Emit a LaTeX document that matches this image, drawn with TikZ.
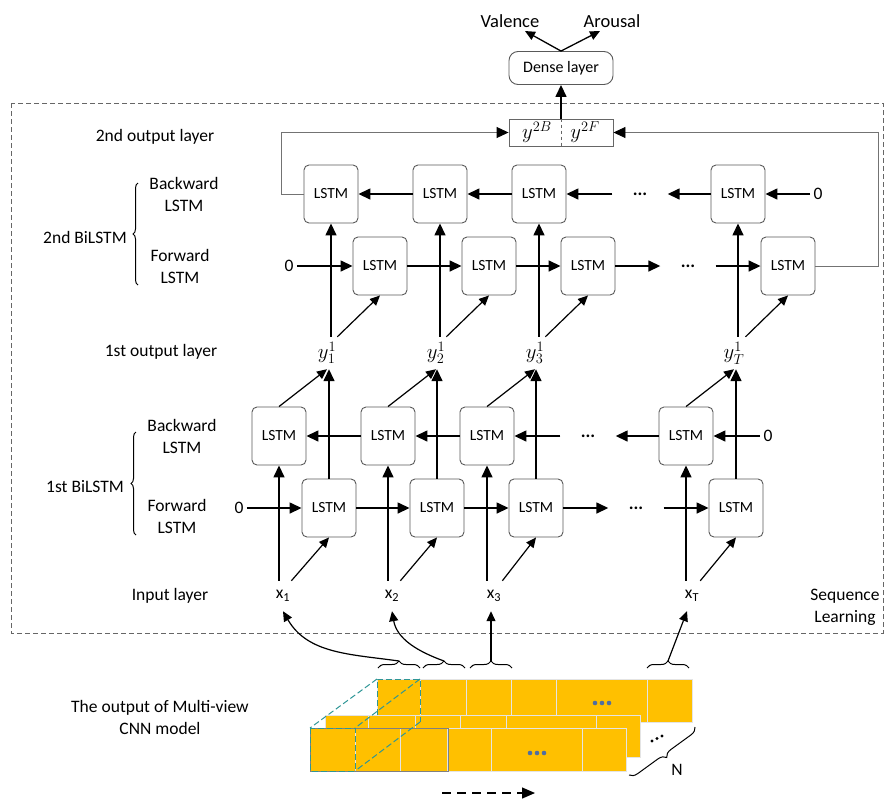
\documentclass[tikz,border=0pt]{standalone}
\usepackage{fontspec}
\setmainfont{Carlito}
\usepackage{amsmath,amssymb}
\usepackage{tikz}
\usepackage{xcolor}
\usetikzlibrary{arrows.meta,decorations.pathreplacing}
\definecolor{cnnfill}{RGB}{255,192,0}
\definecolor{cnnline}{RGB}{228,228,228}
\definecolor{prism}{RGB}{46,150,150}
\definecolor{dotblue}{RGB}{80,110,160}

\begin{document}
\begin{tikzpicture}[x=1pt,y=-1pt,every node/.style={font=\fontsize{17.5}{22}\selectfont},
  lstm/.style={draw=black!65,line width=0.9pt,rounded corners=5pt,minimum width=54pt,minimum height=58pt,inner sep=0pt,font=\fontsize{15.5}{17}\selectfont},
  arr/.style={line width=1.5pt,-{Triangle[length=12pt,width=11pt]}},
  diag/.style={line width=1.2pt,-{Triangle[length=10pt,width=9pt]}},
  fb/.style={draw=black!55,line width=0.9pt,-{Triangle[length=12pt,width=11pt,color=black]}},
  dotsgap/.style={minimum width=55pt,inner sep=0pt,font=\fontsize{18}{20}\selectfont\bfseries},
  xlab/.style={inner sep=1pt,minimum height=30pt},
  ylab/.style={inner sep=1pt,minimum height=32pt,font=\fontsize{20}{22}\selectfont},
  brc/.style={decorate,decoration={brace,amplitude=#1},line width=1pt}]
\useasboundingbox (0,0) rectangle (885,798);

% sequence learning frame
\draw[black!60,line width=0.8pt,dash pattern=on 5pt off 3pt] (11,103) rectangle (883,633);
\node[align=center] (seq) at (845,607) {Sequence\\Learning};

% dense layer and outputs
\node[draw=black!65,line width=0.9pt,rounded corners=9pt,minimum width=104pt,minimum height=33pt,font=\fontsize{16}{18}\selectfont] (dense) at (561,68) {Dense layer};
\node[font=\fontsize{18.5}{20}\selectfont] (val) at (510,21) {Valence};
\node[font=\fontsize{18.5}{20}\selectfont] (aro) at (612,21) {Arousal};
\draw[diag,line width=1.3pt] (dense.north) -- ([xshift=15pt]val.south);
\draw[diag,line width=1.3pt] (dense.north) -- ([xshift=-12pt]aro.south);

% 2nd output layer
\node[draw=black!60,line width=0.9pt,minimum width=104pt,minimum height=27pt,inner sep=0pt] (cat) at (561,132.5) {};
\draw[black!60,line width=0.9pt,dashed] (cat.north) -- (cat.south);
\node[font=\fontsize{22}{22}\selectfont,inner sep=0pt] (yB) at (537,132) {$y^{2B}$};
\node[font=\fontsize{22}{22}\selectfont,inner sep=0pt] (yF) at (585,132) {$y^{2F}$};
\draw[arr] (cat.north) -- (dense.south);

% left labels
\node (l2out) at (155,137) {2nd output layer};
\node[align=center] (l2b) at (184,194) {Backward\\LSTM};
\node[align=center] (l2f) at (180,266) {Forward\\LSTM};
\node (l2bi) at (85,237) {2nd BiLSTM};
\draw[brc=5pt] (138,285) -- (138,183);
\node (l1out) at (161,352) {1st output layer};
\node[align=center] (l1b) at (182,436) {Backward\\LSTM};
\node[align=center] (l1f) at (177,516) {Forward\\LSTM};
\node (l1bi) at (85,487) {1st BiLSTM};
\draw[brc=5pt] (136,535) -- (136,432);
\node (lin) at (170,596) {Input layer};

% 2nd BiLSTM
\node[lstm] (bB1) at (331,194) {LSTM};
\node[lstm] (bB2) at (440,194) {LSTM};
\node[lstm] (bB3) at (539,194) {LSTM};
\node[lstm] (bB4) at (738,194) {LSTM};
\node[dotsgap] (dotsBb) at (640,194) {...};
\node (zBb) at (818,194) {0};
\node[lstm] (fB1) at (380,266) {LSTM};
\node[lstm] (fB2) at (489,266) {LSTM};
\node[lstm] (fB3) at (588,266) {LSTM};
\node[lstm] (fB4) at (788,266) {LSTM};
\node[dotsgap] (dotsBf) at (688,266) {...};
\node (zBf) at (289,266) {0};

\draw[arr] (zBb) -- (bB4);
\draw[arr] (bB4) -- (dotsBb);
\draw[arr] (dotsBb) -- (bB3);
\draw[arr] (bB3) -- (bB2);
\draw[arr] (bB2) -- (bB1);
\draw[arr] (zBf) -- (fB1);
\draw[arr] (fB1) -- (fB2);
\draw[arr] (fB2) -- (fB3);
\draw[arr] (fB3) -- (dotsBf);
\draw[arr] (dotsBf) -- (fB4);
\draw[fb] (bB1.west) -- ++(-22,0) |- (cat.west);
\draw[fb] (fB4.east) -- ++(63,0) |- (cat.east);

% 1st output layer
\node[ylab] (ya1) at (327,353) {$y_1^1$};
\node[ylab] (ya2) at (436,353) {$y_2^1$};
\node[ylab] (ya3) at (535,353) {$y_3^1$};
\node[ylab] (yaT) at (734,353) {$y_T^1$};

\draw[arr] (ya1.north -| bB1.south) -- (bB1.south);
\draw[arr] (ya2.north -| bB2.south) -- (bB2.south);
\draw[arr] (ya3.north -| bB3.south) -- (bB3.south);
\draw[arr] (yaT.north -| bB4.south) -- (bB4.south);
\draw[diag] (ya1.north east) -- (fB1.south);
\draw[diag] (ya2.north east) -- (fB2.south);
\draw[diag] (ya3.north east) -- (fB3.south);
\draw[diag] (yaT.north east) -- (fB4.south);

% 1st BiLSTM
\node[lstm] (bA1) at (279,436) {LSTM};
\node[lstm] (bA2) at (388,436) {LSTM};
\node[lstm] (bA3) at (487,436) {LSTM};
\node[lstm] (bA4) at (686,436) {LSTM};
\node[dotsgap] (dotsAb) at (588,436) {...};
\node (zAb) at (768,436) {0};
\node[lstm] (fA1) at (329,508) {LSTM};
\node[lstm] (fA2) at (437,508) {LSTM};
\node[lstm] (fA3) at (536,508) {LSTM};
\node[lstm] (fA4) at (736,508) {LSTM};
\node[dotsgap] (dotsAf) at (636,508) {...};
\node (zAf) at (239,508) {0};

\draw[arr] (zAb) -- (bA4);
\draw[arr] (bA4) -- (dotsAb);
\draw[arr] (dotsAb) -- (bA3);
\draw[arr] (bA3) -- (bA2);
\draw[arr] (bA2) -- (bA1);
\draw[arr] (zAf) -- (fA1);
\draw[arr] (fA1) -- (fA2);
\draw[arr] (fA2) -- (fA3);
\draw[arr] (fA3) -- (dotsAf);
\draw[arr] (dotsAf) -- (fA4);

\draw[arr] (fA1.north) -- (fA1.north |- ya1.south);
\draw[arr] (fA2.north) -- (fA2.north |- ya2.south);
\draw[arr] (fA3.north) -- (fA3.north |- ya3.south);
\draw[arr] (fA4.north) -- (fA4.north |- yaT.south);
\draw[diag] (bA1.north) -- (ya1.south);
\draw[diag] (bA2.north) -- (ya2.south);
\draw[diag] (bA3.north) -- (ya3.south);
\draw[diag] (bA4.north) -- (yaT.south);

% input layer
\node[xlab] (x1) at (283,596) {x\textsubscript{1}};
\node[xlab] (x2) at (392,596) {x\textsubscript{2}};
\node[xlab] (x3) at (494,596) {x\textsubscript{3}};
\node[xlab] (xT) at (692,596) {x\textsubscript{T}};

\draw[arr] (x1.north -| bA1.south) -- (bA1.south);
\draw[arr] (x2.north -| bA2.south) -- (bA2.south);
\draw[arr] (x3.north -| bA3.south) -- (bA3.south);
\draw[arr] (xT.north -| bA4.south) -- (bA4.south);
\draw[diag] (x1.north east) -- (fA1.south);
\draw[diag] (x2.north east) -- (fA2.south);
\draw[diag] (x3.north east) -- (fA3.south);
\draw[diag] (xT.north east) -- (fA4.south);

% multi-view CNN output
\node[align=center] (cnn) at (160,717) {The output of Multi-view\\CNN model};
\fill[cnnfill] (377,679) rectangle (692,722);
\draw[cnnline] (377,679) rectangle (692,722);
\draw[cnnline] (420,679) -- (420,722) (466,679) -- (466,722) (511,679) -- (511,722) (556,679) -- (556,722) (647,679) -- (647,722);
\fill[dotblue] (595,703) circle (2.3) (602,703) circle (2.3) (609,703) circle (2.3);
\fill[cnnfill] (325,715) rectangle (640,757);
\draw[cnnline] (325,715) rectangle (640,757);
\draw[cnnline] (368,715) -- (368,757) (415,715) -- (415,757) (460,715) -- (460,757) (506,715) -- (506,757) (596,715) -- (596,757);
\fill[cnnfill] (310,728) rectangle (626,771);
\draw[cnnline] (310,728) rectangle (626,771);
\draw[cnnline] (355,728) -- (355,771) (400,728) -- (400,771) (447,728) -- (447,771) (491,728) -- (491,771) (582,728) -- (582,771);
\draw[black!50,line width=0.9pt] (310,728) rectangle (448,771);
\fill[dotblue] (530,753) circle (2.3) (537,753) circle (2.3) (544,753) circle (2.3);
\draw[prism,line width=1pt,dash pattern=on 6pt off 3pt] (377,715) -- (377,679) -- (420,679) -- (420,722);
\draw[prism,line width=1pt,dash pattern=on 6pt off 3pt] (310,728) rectangle (355,771);
\draw[prism,line width=1pt,dash pattern=on 6pt off 3pt] (377,679) -- (310,728) (420,679) -- (355,728) (420,722) -- (355,771);
\fill (652,741) circle (1.7) (657,738.5) circle (1.7) (662,736) circle (1.7);
\draw[brc=8pt] (695,727) -- (629,775);
\node (nlab) at (677,770) {N};

% time-step braces
\draw[brc=7pt] (378,668) -- (420,668);
\draw[brc=7pt] (423,668) -- (465,668);
\draw[brc=7pt] (470,668) -- (512,668);
\draw[brc=7pt] (647,668) -- (689,668);
\coordinate (t1) at (399,661);
\coordinate (t2) at (444,661);
\coordinate (t3) at (491,661);
\coordinate (t4) at (668,661);
\draw[diag] (t1) to[out=172,in=-60] (x1.south);
\draw[diag] (t2) to[out=160,in=-80] (x2.south);
\draw[diag] (t3) -- (t3 |- x3.south);
\draw[diag] (t4) -- ([xshift=-5pt]xT.south);

% direction
\coordinate (dirA) at (442,793);
\coordinate (dirB) at (535,793);
\draw[line width=1.3pt,dash pattern=on 9pt off 6pt,-{Triangle[length=13pt,width=11pt]}] (dirA) -- (dirB);
\end{tikzpicture}
\end{document}
